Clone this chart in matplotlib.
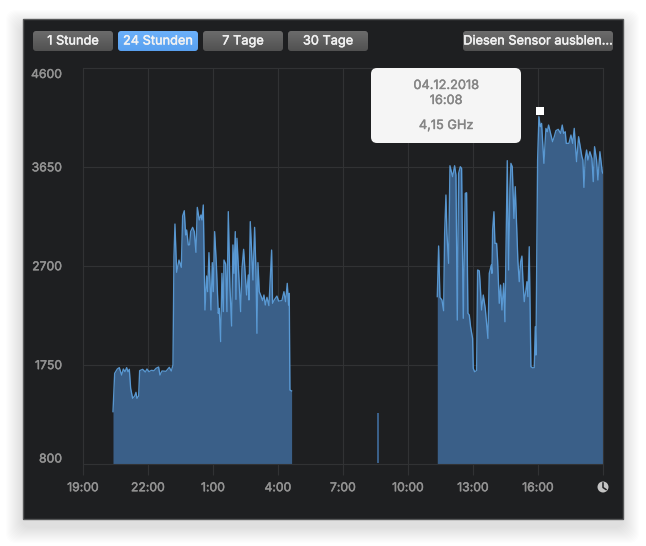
import numpy as np
import matplotlib.pyplot as plt
import matplotlib.patheffects as pe
from matplotlib.patches import Circle, FancyBboxPatch, Rectangle
from matplotlib.transforms import ScaledTranslation

plt.rcParams['font.family'] = ['Inter', 'DejaVu Sans']

# hours after 19:00, clock speed in MHz
hours_a = [1.384, 1.461, 1.584, 1.676, 1.784, 1.861, 1.938, 2.015, 2.076, 2.138, 2.2, 2.291, 2.384, 2.445, 2.491,
           2.568, 2.614, 2.753, 2.876, 2.953, 3.045, 3.152, 3.276, 3.368, 3.49, 3.552, 3.645, 3.83, 3.983, 4.076,
           4.152, 4.198, 4.244, 4.322, 4.429, 4.537, 4.598, 4.675, 4.737, 4.783, 4.86, 4.921, 4.967, 5.06, 5.136,
           5.213, 5.275, 5.367, 5.444, 5.49, 5.552, 5.629, 5.706, 5.752, 5.813, 5.905, 5.967, 6.013, 6.075, 6.152,
           6.244, 6.29, 6.352, 6.413, 6.475, 6.506, 6.583, 6.644, 6.706, 6.782, 6.859, 6.92, 6.967, 7.028, 7.059,
           7.105, 7.275, 7.336, 7.413, 7.551, 7.628, 7.659, 7.72, 7.844, 7.92, 7.982, 8.028, 8.074, 8.136, 8.228,
           8.29, 8.351, 8.413, 8.49, 8.582, 8.705, 8.75, 8.843, 8.95, 9.028, 9.18, 9.274, 9.35, 9.427, 9.489, 9.52,
           9.55, 9.628]
mhz_a = [1298, 1666, 1708, 1721, 1650, 1708, 1682, 1721, 1682, 1705, 1522, 1426, 1448, 1484, 1426,
         1448, 1692, 1705, 1679, 1708, 1682, 1695, 1692, 1714, 1727, 1650, 1689, 1686, 1724, 1689,
         1746, 2787, 3101, 2637, 2755, 2685, 3178, 3229, 2996, 3044, 2900, 2900, 3028, 3069, 3028,
         2829, 3261, 3140, 3188, 3140, 3284, 2275, 2602, 2451, 2826, 2275, 2730, 2451, 3028, 2730,
         2243, 2291, 1971, 2627, 2259, 2755, 2717, 2259, 3220, 2499, 2121, 2900, 2627, 3028, 2377,
         2964, 2259, 2669, 2858, 2419, 2611, 2371, 3124, 2563, 3069, 2659, 2051, 2730, 2451, 2403,
         2365, 2419, 2323, 2397, 2317, 2851, 2339, 2377, 2409, 2361, 2365, 2451, 2355, 2531, 2323, 2435,
         1506, 1497]

hours_b = [13.58, 13.65]
mhz_b = [1285, 1285]

hours_c = [16.351, 16.413, 16.474, 16.567, 16.644, 16.69, 16.751, 16.797, 16.874, 16.936, 17.059, 17.151, 17.213,
           17.274, 17.336, 17.413, 17.474, 17.551, 17.643, 17.705, 17.766, 17.828, 17.889, 17.982, 18.012, 18.074,
           18.166, 18.212, 18.289, 18.32, 18.397, 18.474, 18.566, 18.689, 18.751, 18.843, 18.874, 18.905, 18.966,
           19.012, 19.09, 19.135, 19.212, 19.274, 19.336, 19.412, 19.474, 19.581, 19.643, 19.704, 19.75, 19.812,
           19.889, 19.95, 20.073, 20.135, 20.197, 20.258, 20.304, 20.366, 20.443, 20.488, 20.534, 20.596, 20.673,
           20.75, 20.827, 20.873, 20.904, 20.981, 21.042, 21.104, 21.165, 21.273, 21.365, 21.427, 21.488, 21.58,
           21.673, 21.75, 21.827, 21.934, 22.042, 22.119, 22.18, 22.257, 22.304, 22.427, 22.52, 22.6, 22.673, 22.78,
           22.873, 23.027, 23.073, 23.12, 23.18, 23.242, 23.303, 23.395, 23.488, 23.55, 23.61, 23.703, 23.765,
           23.857, 23.965, 24.0]
mhz_c = [2403, 2890, 2396, 2371, 2268, 3011, 3380, 3011, 2723, 3661, 3556, 3661, 3572,
         2178, 3588, 3652, 3636, 2195, 3396, 3402, 2243, 2227, 2114, 2002, 1714, 1682,
         1692, 2659, 2652, 2563, 2275, 2419, 2291, 2002, 2627, 2707, 2627, 3043, 3219,
         2915, 2915, 2755, 2339, 2515, 2275, 2531, 2162, 3710, 2659, 3444, 3684, 3652,
         3155, 3460, 2739, 2547, 2739, 2793, 2563, 2355, 2467, 2547, 2403, 2883, 1730,
         1720, 1720, 2114, 1842, 3716, 4132, 4036, 4068, 3684, 4020, 3988, 4052, 3972,
         3892, 3940, 3998, 4011, 3972, 4052, 3972, 3988, 3876, 3876, 3956, 3876, 4020, 3700,
         3940, 3748, 3716, 3453, 3732, 3812, 3716, 3796, 3732, 3508, 3844, 3716, 3524,
         3796, 3604, 3588]

x_ticks = [0, 3, 6, 9, 12, 15, 18, 21, 24]
x_labels = ['19:00', '22:00', '1:00', '4:00', '7:00', '10:00', '13:00', '16:00', '']
y_ticks = [800, 1750, 2700, 3650, 4600]
buttons = ['1 Stunde', '24 Stunden', '7 Tage', '30 Tage']
hide_button = 'Diesen Sensor ausblen...'
tip_date = '04.12.2018'
tip_time = '16:08'
tip_value = '4,15 GHz'
cursor_hour = 21.09
cursor_mhz = 4190

W, H = 646, 546
PANEL = '#1e1f21'
GRID = '#313234'
LABEL = '#939393'
FILL = '#3a5f88'
LINE = '#5ea2e0'


def pixel_axes(zorder):
    a = fig.add_axes([0, 0, 1, 1], zorder=zorder)
    a.set_xlim(0, W)
    a.set_ylim(H, 0)
    a.axis('off')
    a.patch.set_alpha(0)
    return a


def heavier(t, color):
    # Inter only comes in one weight here, thicken it a little
    t.set_path_effects([pe.withStroke(linewidth=0.3, foreground=color)])


def button(a, x0, x1, y0, y1, top, bottom, label):
    box = FancyBboxPatch((x0 + 3, y0 + 3), x1 - x0 - 6, y1 - y0 - 6, boxstyle='round,pad=3,rounding_size=3',
                         fc='none', ec='none')
    a.add_patch(box)
    grad = np.linspace(0, 1, 20).reshape(-1, 1, 1)
    rgb = np.array(top) * (1 - grad) + np.array(bottom) * grad
    im = a.imshow(rgb, extent=[x0, x1, y1, y0], aspect='auto', zorder=2)
    im.set_clip_path(box)
    t = a.text((x0 + x1) / 2, (y0 + y1) / 2 + 0.5, label, color='#f2f2f2', fontsize=9.2, ha='center', va='center',
               zorder=3)
    heavier(t, '#f2f2f2')


fig = plt.figure(figsize=(W / 100, H / 100), dpi=100, facecolor='white')

back = pixel_axes(0)
# soft drop shadow under the window
for grow in range(1, 17):
    back.add_patch(FancyBboxPatch((22 - grow + 8, 18 - grow + 16), 601 + 2 * grow - 16, 501 + 2 * grow - 16,
                                  boxstyle='round,pad=8,rounding_size=10', fc='black', ec='none', alpha=0.006))
back.add_patch(Rectangle((22.5, 18.5), 600, 500, fc=PANEL, ec='#565758', lw=1))

ax = fig.add_axes([83 / W, 1 - 463.5 / H, 520 / W, 395.5 / H], zorder=1)
ax.set_facecolor(PANEL)
ax.set_xlim(0, 24)
ax.set_ylim(800, 4600)
ax.set_axisbelow(True)
ax.grid(True, color=GRID, lw=0.8)
for s in ax.spines.values():
    s.set_color(GRID)
    s.set_linewidth(0.8)

for hrs, vals in [(hours_a, mhz_a), (hours_b, mhz_b), (hours_c, mhz_c)]:
    ax.fill_between(hrs, vals, 800, color=FILL, lw=0, zorder=2)
ax.plot(hours_a, mhz_a, color=LINE, lw=0.95, alpha=0.9, zorder=3)
ax.plot(hours_c, mhz_c, color=LINE, lw=0.95, alpha=0.9, zorder=3)
ax.plot([cursor_hour], [cursor_mhz], 's', color='white', ms=5.8, mew=0, zorder=5, clip_on=False)

ax.set_xticks(x_ticks)
ax.set_xticklabels(x_labels, color=LABEL, fontsize=8.8)
ax.set_yticks(y_ticks)
ax.set_yticklabels([str(v) for v in y_ticks], color=LABEL, fontsize=8.8)
ax.tick_params(axis='x', length=8, width=0.8, color=GRID, pad=5.5)
ax.tick_params(axis='y', length=0, pad=15)
for lab in ax.get_xticklabels() + ax.get_yticklabels():
    heavier(lab, LABEL)
# the outer y labels sit inside the plot range
ylabels = ax.get_yticklabels()
ylabels[0].set_transform(ylabels[0].get_transform() + ScaledTranslation(0, 5.5 / 100, fig.dpi_scale_trans))
ylabels[-1].set_transform(ylabels[-1].get_transform() + ScaledTranslation(0, -5.5 / 100, fig.dpi_scale_trans))

front = pixel_axes(3)
grey_top, grey_bot = (0.42, 0.42, 0.42), (0.32, 0.32, 0.32)
blue_top, blue_bot = (0.42, 0.69, 0.98), (0.35, 0.63, 0.94)
for i, name in enumerate(buttons):
    left = 33 + i * 85
    if i == 1:
        button(front, left, left + 80, 31, 51, blue_top, blue_bot, name)
    else:
        button(front, left, left + 80, 31, 51, grey_top, grey_bot, name)
button(front, 463, 613, 31, 51, grey_top, grey_bot, hide_button)

# tooltip
front.add_patch(FancyBboxPatch((376, 73), 140, 65, boxstyle='round,pad=5,rounding_size=6', fc='#f5f5f5', ec='none',
                               zorder=4))
for y, line in [(86, tip_date), (101, tip_time), (126, tip_value)]:
    t = front.text(446, y, line, color='#858585', fontsize=9.2, ha='center', va='center', zorder=5)
    heavier(t, '#858585')

# clock icon at the end of the time axis
front.add_patch(Circle((603, 487), 5.5, fc='#c4c4c4', ec='none', zorder=4))
front.plot([603, 603, 606], [483, 487.5, 489.5], color=PANEL, lw=1.1, zorder=5)
front.set_xlim(0, W)
front.set_ylim(H, 0)
back.set_xlim(0, W)
back.set_ylim(H, 0)

fig.savefig('out.png', dpi=100, facecolor='white')
